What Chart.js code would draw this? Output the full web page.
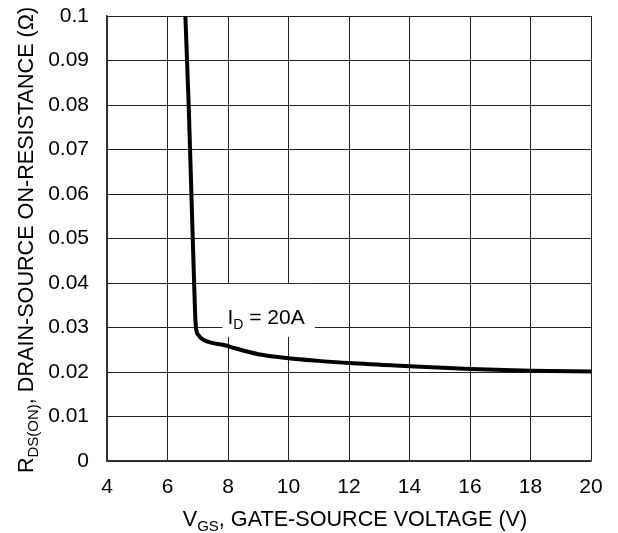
<!DOCTYPE html>
<html>
<head>
<meta charset="utf-8">
<script src="https://cdn.jsdelivr.net/npm/chart.js@4.4.1/dist/chart.umd.min.js"></script>
<style>
  html, body { margin: 0; padding: 0; background: #fff; }
  canvas { display: block; }
</style>
</head>
<body>
<canvas id="rdsChart" width="618" height="533"></canvas>
<script>
// R_DS(on) vs V_GS at I_D = 20A
const vgs = [6.59, 6.70, 6.79, 6.88, 6.92, 6.95, 7.02, 7.2, 7.5, 7.9, 8.2, 9, 10, 11, 12, 14, 16, 18, 20];
const rdsOn = [0.1, 0.08, 0.06, 0.04, 0.032, 0.0295, 0.0283, 0.0272, 0.0265, 0.026, 0.0254, 0.024, 0.0231, 0.0225, 0.022, 0.0213, 0.0207, 0.0203, 0.0201];
const xTicks = [4, 6, 8, 10, 12, 14, 16, 18, 20];
const yTicks = [0, 0.01, 0.02, 0.03, 0.04, 0.05, 0.06, 0.07, 0.08, 0.09, 0.1];
const curveLabel = { x: 9.26, y: 0.0308, main: 'I', sub: 'D', rest: ' = 20A' };

const FONT = 'Liberation Sans, Arial, Helvetica, sans-serif';

// draws text pieces in a row, subscript pieces smaller and lowered
function drawSubText(ctx, x, y, parts, size) {
    let cx = x;
    parts.forEach(p => {
        const sz = p.sub ? Math.round(size * 0.68) : size;
        ctx.font = sz + 'px ' + FONT;
        ctx.fillText(p.t, cx, p.sub ? y + size * 0.22 : y);
        cx += ctx.measureText(p.t).width;
    });
}

function subTextWidth(ctx, parts, size) {
    let w = 0;
    parts.forEach(p => {
        ctx.font = (p.sub ? Math.round(size * 0.68) : size) + 'px ' + FONT;
        w += ctx.measureText(p.t).width;
    });
    return w;
}

const titlesPlugin = {
    id: 'titles',
    afterDraw(chart) {
        const ctx = chart.ctx;
        const size = 21.6;
        ctx.save();
        ctx.fillStyle = '#000';
        ctx.textBaseline = 'alphabetic';

        // x axis title
        const xParts = [{ t: 'V' }, { t: 'GS', sub: true }, { t: ', GATE-SOURCE VOLTAGE (V)' }];
        const xw = subTextWidth(ctx, xParts, size);
        drawSubText(ctx, 355 - xw / 2, 526, xParts, size);

        // y axis title, rotated
        const yParts = [{ t: 'R' }, { t: 'DS(ON)', sub: true }, { t: ', DRAIN-SOURCE ON-RESISTANCE (Ω)' }];
        const yw = subTextWidth(ctx, yParts, size);
        ctx.translate(33, 240);
        ctx.rotate(-Math.PI / 2);
        drawSubText(ctx, -yw / 2, 0, yParts, size);
        ctx.restore();

        // curve label on a white box
        const xs = chart.scales.x, ys = chart.scales.y;
        const lx = xs.getPixelForValue(curveLabel.x);
        const ly = ys.getPixelForValue(curveLabel.y);
        const lsize = 21;
        const lParts = [{ t: curveLabel.main }, { t: curveLabel.sub, sub: true }, { t: curveLabel.rest }];
        const lw = subTextWidth(ctx, lParts, lsize);
        ctx.save();
        ctx.fillStyle = '#fff';
        ctx.fillRect(lx - lw / 2 - 5, ly - 40, lw + 15, 53);
        ctx.fillStyle = '#000';
        drawSubText(ctx, lx - lw / 2, ly, lParts, lsize);
        ctx.restore();
    }
};

new Chart(document.getElementById('rdsChart'), {
    type: 'scatter',
    data: {
        datasets: [{
            data: vgs.map((v, i) => ({ x: v, y: rdsOn[i] })),
            showLine: true,
            borderColor: '#000',
            borderWidth: 4,
            pointRadius: 0,
            cubicInterpolationMode: 'monotone',
            clip: 2
        }]
    },
    options: {
        responsive: false,
        animation: false,
        layout: { padding: { top: 16, right: 27, left: 0, bottom: 0 } },
        plugins: { legend: { display: false }, tooltip: { enabled: false } },
        scales: {
            x: {
                type: 'linear',
                min: 4, max: 20,
                afterFit: s => { s.height = 72; s.paddingRight = 0; s.paddingLeft = 0; },
                afterBuildTicks: s => { s.ticks = xTicks.map(v => ({ value: v })); },
                grid: { color: '#222', lineWidth: 1, drawTicks: false },
                border: { color: '#333', width: 1.5 },
                ticks: { color: '#000', padding: 14, font: { family: FONT, size: 21 } }
            },
            y: {
                type: 'linear',
                min: 0, max: 0.1,
                afterFit: s => { s.width = 107; s.paddingTop = 0; s.paddingBottom = 0; },
                afterBuildTicks: s => { s.ticks = yTicks.map(v => ({ value: v })); },
                grid: { color: '#222', lineWidth: 1, drawTicks: false },
                border: { color: '#333', width: 1.5 },
                ticks: {
                    color: '#000', padding: 18, font: { family: FONT, size: 21 },
                    callback: v => String(parseFloat(v.toFixed(2)))
                }
            }
        }
    },
    plugins: [titlesPlugin]
});
</script>
</body>
</html>
